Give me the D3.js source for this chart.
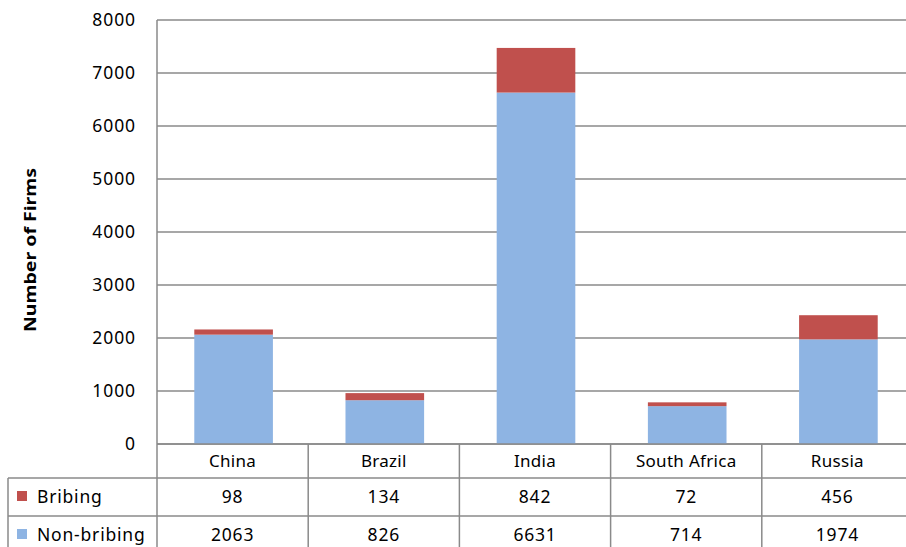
<!DOCTYPE html>
<html>
<head>
<meta charset="utf-8">
<script src="https://cdn.jsdelivr.net/npm/d3@7"></script>
<style>
body { margin: 0; background: #fff; }
text { font-family: "Noto Sans", sans-serif; fill: #000; }
</style>
</head>
<body>
<script>
var countries = ['China', 'Brazil', 'India', 'South Africa', 'Russia'];
var bribing = [98, 134, 842, 72, 456];
var nonBribing = [2063, 826, 6631, 714, 1974];
var seriesNames = ['Bribing', 'Non-bribing'];
var yTicks = [0, 1000, 2000, 3000, 4000, 5000, 6000, 7000, 8000];

var W = 906, H = 547;
// note: "top" clashes with window.top, so plain names here
var pLeft = 157, pRight = 913, pTop = 20, pBottom = 444;
var rowH = [34, 38, 38];
var gridColor = '#8a8a8a';
var blue = '#8EB4E3', red = '#C0504D';

var svg = d3.select('body').append('svg')
    .attr('width', W)
    .attr('height', H);

var y = d3.scaleLinear().domain([0, 8000]).range([pBottom, pTop]);
var x = d3.scaleBand().domain(countries).range([pLeft, pRight]).paddingInner(0).paddingOuter(0);
var barW = x.bandwidth() * 0.52;

// gridlines
svg.selectAll('.grid')
    .data(yTicks)
    .enter()
    .append('line')
    .attr('x1', pLeft).attr('x2', pRight)
    .attr('y1', d => y(d)).attr('y2', d => y(d))
    .attr('stroke', gridColor)
    .attr('stroke-width', 1.5);

// tick labels
svg.selectAll('.ytick')
    .data(yTicks)
    .enter()
    .append('text')
    .attr('x', 136)
    .attr('y', d => y(d) + 6)
    .attr('text-anchor', 'end')
    .style('font-size', '17.5px')
    .style('letter-spacing', '0.9px')
    .text(d => d);

// axis title
svg.append('text')
    .attr('transform', 'translate(36,250) rotate(-90)')
    .attr('text-anchor', 'middle')
    .attr('textLength', 164)
    .attr('lengthAdjust', 'spacingAndGlyphs')
    .style('font-size', '16px')
    .style('font-weight', 'bold')
    .text('Number of Firms');

// stacked bars
var rows = countries.map((c, i) => ({ country: c, nb: nonBribing[i], b: bribing[i] }));
var g = svg.selectAll('.bar')
    .data(rows)
    .enter()
    .append('g')
    .attr('transform', d => `translate(${x(d.country) + (x.bandwidth() - barW) / 2 + 1},0)`);

g.append('rect')
    .attr('y', d => y(d.nb))
    .attr('width', barW)
    .attr('height', d => y(0) - y(d.nb))
    .attr('fill', blue);

g.append('rect')
    .attr('y', d => y(d.nb + d.b))
    .attr('width', barW)
    .attr('height', d => y(d.nb) - y(d.nb + d.b))
    .attr('fill', red);

// data table
var r1 = pBottom + rowH[0], r2 = r1 + rowH[1];
var tableLines = [
    [pLeft, pBottom, pRight, pBottom],
    [8, r1, pRight, r1],
    [8, r2, pRight, r2],
    [8, r1, 8, H],
    [pLeft, pTop, pLeft, H]
];
countries.forEach(c => tableLines.push([x(c) + x.bandwidth(), pBottom, x(c) + x.bandwidth(), H]));
svg.selectAll('.tl')
    .data(tableLines)
    .enter()
    .append('line')
    .attr('x1', d => d[0]).attr('y1', d => d[1])
    .attr('x2', d => d[2]).attr('y2', d => d[3])
    .attr('stroke', gridColor)
    .attr('stroke-width', 1.5);

svg.selectAll('.cat')
    .data(countries)
    .enter()
    .append('text')
    .attr('x', d => x(d) + x.bandwidth() / 2)
    .attr('y', pBottom + 23)
    .attr('text-anchor', 'middle')
    .style('font-size', '17px')
    .style('letter-spacing', '0.3px')
    .text(d => d);

[bribing, nonBribing].forEach((vals, k) => {
    var ry = (k == 0 ? r1 : r2) + 25;
    svg.selectAll('.v' + k)
        .data(vals)
        .enter()
        .append('text')
        .attr('x', (d, i) => x(countries[i]) + x.bandwidth() / 2)
        .attr('y', ry)
        .attr('text-anchor', 'middle')
        .style('font-size', '17.5px')
        .style('letter-spacing', '0.8px')
        .text(d => d);
    svg.append('rect')
        .attr('x', 17).attr('y', ry - 12)
        .attr('width', 10).attr('height', 10)
        .attr('fill', k == 0 ? red : blue);
    svg.append('text')
        .attr('x', 37).attr('y', ry)
        .style('font-size', '17.5px')
        .style('letter-spacing', '0.8px')
        .text(seriesNames[k]);
});
</script>
</body>
</html>
